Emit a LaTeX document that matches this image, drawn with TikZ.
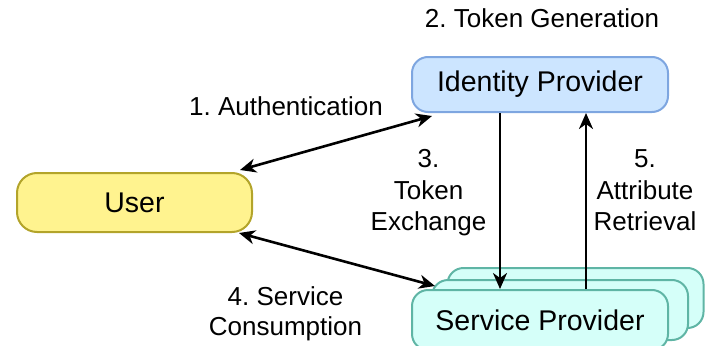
\documentclass[tikz,border=0pt]{standalone}
\usepackage{fontspec}
\setmainfont{Liberation Sans}
\usetikzlibrary{arrows.meta}
\frenchspacing

\definecolor{idpfill}{HTML}{CCE5FF}
\definecolor{idpline}{HTML}{7EA6E0}
\definecolor{userfill}{HTML}{FFF38F}
\definecolor{userline}{HTML}{B3A42A}
\definecolor{spfill}{HTML}{D5FFF9}
\definecolor{spline}{HTML}{5FB5A5}

\tikzset{
  box/.style={draw, line width=2pt, rounded corners=16pt, minimum height=55pt,
    minimum width=256pt, inner sep=0pt, font=\fontsize{28.5}{34}\selectfont},
  idpbox/.style={box, fill=idpfill, draw=idpline},
  userbox/.style={box, fill=userfill, draw=userline, rounded corners=20pt,
    minimum width=235pt, minimum height=59pt},
  spbox/.style={box, fill=spfill, draw=spline, minimum height=60pt},
  tipshape/.style={},
  flow/.style={line width=2.6pt, draw=black,
    -{Stealth[length=16pt,width=14pt,inset=5pt]}},
  bothflow/.style={flow, {Stealth[length=16pt,width=14pt,inset=5pt]}-{Stealth[length=16pt,width=14pt,inset=5pt]}},
  lbl/.style={inner sep=0pt, anchor=base, font=\fontsize{26}{31.5}\selectfont},
}

\begin{document}
\begin{tikzpicture}[x=1pt, y=-1pt]
  \useasboundingbox (0,0) rectangle (711,345);
  \clip (0,0) rectangle (711,345);

  % participants
  \node[idpbox] (idp) at (540,84.5) {Identity Provider};
  \node[userbox] (user) at (134.5,202.5) {User};

  % stacked service providers, back to front
  \node[spbox] (spback) at (575.5,298) {};
  \node[spbox] (spmid) at (560,310) {};
  \node[spbox] (spf) at (540,320) {Service Provider};

  % message flows
  \draw[bothflow] ([xshift=-13pt,yshift=2pt]user.north east)
    -- ([xshift=21pt,yshift=-3pt]idp.south west);
  \draw[bothflow] ([xshift=-14pt]user.south east)
    -- ([xshift=24pt,yshift=3pt]spf.north west);
  \draw[flow] ([xshift=-40pt]idp.south) -- ([xshift=-40pt]spf.north);
  \draw[flow] ([xshift=46pt]spf.north) -- ([xshift=46pt]idp.south);

  % step labels
  \node[lbl] (l2) at (542,28) {2. Token Generation};
  \node[lbl] (l1) at (286,115) {1. Authentication};
  \node[lbl] (l3a) at (428.5,167) {3.};
  \node[lbl] (l3b) at (428.5,199) {Token};
  \node[lbl] (l3c) at (428.5,230) {Exchange};
  \node[lbl] (l5a) at (645,167) {5.};
  \node[lbl] (l5b) at (645,199) {Attribute};
  \node[lbl] (l5c) at (645,230) {Retrieval};
  \node[lbl] (l4a) at (285.5,305) {4. Service};
  \node[lbl] (l4b) at (285.5,335) {Consumption};
\end{tikzpicture}
\end{document}
